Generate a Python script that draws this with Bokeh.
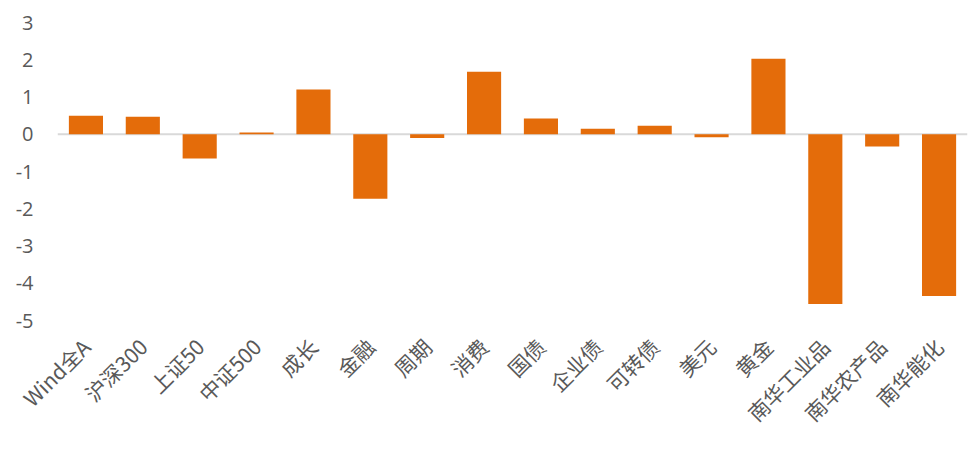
import math
from bokeh.plotting import figure
from bokeh.models import Span, ColumnDataSource, FactorRange
from bokeh.embed import file_html
from bokeh.resources import INLINE

categories = ["Wind全A", "沪深300", "上证50", "中证500", "成长", "金融", "周期", "消费",
              "国债", "企业债", "可转债", "美元", "黄金", "南华工业品", "南华农产品", "南华能化"]
values = [0.50, 0.47, -0.65, 0.05, 1.20, -1.73, -0.10, 1.68,
          0.42, 0.15, 0.23, -0.08, 2.03, -4.56, -0.33, -4.34]
y_ticks = [-5, -4, -3, -2, -1, 0, 1, 2, 3]

src = ColumnDataSource(dict(cat=categories, val=values))

p = figure(x_range=FactorRange(*categories, range_padding=0), y_range=(-5, 3),
           width=968, height=443, output_backend="svg", toolbar_location=None,
           min_border_left=57, min_border_right=1, min_border_top=22, min_border_bottom=123)

p.add_layout(Span(location=0, dimension="width", line_color="#D9D9D9", line_width=2,
                  level="underlay"))

p.vbar(x="cat", top="val", bottom=0, width=0.6, source=src,
       fill_color="#E46C0A", line_color=None)

p.xgrid.grid_line_color = None
p.ygrid.grid_line_color = None
p.outline_line_color = None

p.yaxis.ticker = y_ticks
p.yaxis.major_label_overrides = {t: str(t) for t in y_ticks}
p.yaxis.axis_line_color = None
p.yaxis.major_tick_line_color = None
p.yaxis.minor_tick_line_color = None
p.yaxis.major_tick_out = 0
p.yaxis.major_tick_in = 0
p.yaxis.major_label_standoff = 24
p.yaxis.major_label_text_font = "Open Sans"
p.yaxis.major_label_text_font_size = "20px"
p.yaxis.major_label_text_color = "#595959"

p.xaxis.axis_line_color = None
p.xaxis.major_tick_line_color = None
p.xaxis.minor_tick_line_color = None
p.xaxis.major_tick_out = 0
p.xaxis.major_tick_in = 0
p.xaxis.major_label_standoff = 22
p.xaxis.major_label_orientation = math.pi / 4
p.xaxis.major_label_text_font = "Noto Sans CJK SC"
p.xaxis.major_label_text_font_size = "21px"
p.xaxis.major_label_text_color = "#595959"

open("out.html", "w").write(file_html(p, INLINE))
